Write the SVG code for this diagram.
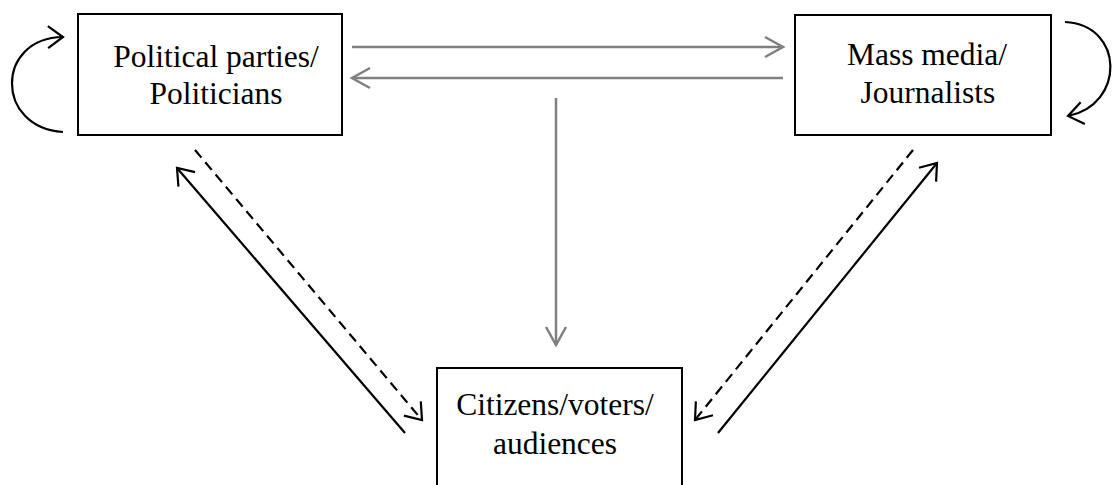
<svg xmlns="http://www.w3.org/2000/svg" width="1115" height="485" viewBox="0 0 1115 485">
  <style>
    .box { fill: #ffffff; stroke: #000000; stroke-width: 2; }
    .label { font-family: "Liberation Serif", "Times New Roman", serif; font-size: 31.5px; fill: #000000; text-anchor: middle; }
    .gray { fill: none; stroke: #808080; stroke-width: 2.5; marker-end: url(#headGray); }
    .solid { fill: none; stroke: #000000; stroke-width: 2.2; marker-end: url(#headBlack); }
    .dashed { fill: none; stroke: #000000; stroke-width: 2.2; stroke-dasharray: 10 6; marker-end: url(#headBlack); }
  </style>
  <defs>
    <marker id="headGray" markerUnits="userSpaceOnUse" orient="auto" refX="0" refY="0" markerWidth="30" markerHeight="30" viewBox="-25 -15 30 30" overflow="visible">
      <path d="M-18,-10 L0,0 L-18,10" fill="none" stroke="#808080" stroke-width="2.5" stroke-linejoin="miter"/>
    </marker>
    <marker id="headBlack" markerUnits="userSpaceOnUse" orient="auto" refX="0" refY="0" markerWidth="30" markerHeight="30" viewBox="-25 -15 30 30" overflow="visible">
      <path d="M-15,-11 L0,0 L-15,11" fill="none" stroke="#000000" stroke-width="2.2" stroke-linejoin="miter"/>
    </marker>
  </defs>

  <rect width="1115" height="485" fill="#ffffff"/>

  <g id="connectors">
    <!-- parties <-> media -->
    <line class="gray" x1="352" y1="47" x2="783" y2="47"/>
    <line class="gray" x1="783" y1="78" x2="352" y2="78"/>
    <!-- down to citizens -->
    <line class="gray" x1="556" y1="98" x2="556" y2="345"/>
    <!-- self loops -->
    <path class="solid" d="M63,132 C-5,128 -5,38 63,37"/>
    <path class="solid" d="M1065,22 C1125,25 1125,105 1068,116"/>
    <!-- parties <-> citizens -->
    <line class="solid" x1="405" y1="433" x2="177" y2="168"/>
    <line class="dashed" x1="195" y1="150" x2="422" y2="420"/>
    <!-- media <-> citizens -->
    <line class="dashed" x1="913" y1="150" x2="695" y2="420"/>
    <line class="solid" x1="718" y1="433" x2="937" y2="163"/>
  </g>

  <g id="parties">
    <rect class="box" x="78" y="14" width="264" height="121"/>
    <text class="label" x="216" y="67">Political parties/</text>
    <text class="label" x="216" y="104">Politicians</text>
  </g>

  <g id="media">
    <rect class="box" x="795" y="15" width="256" height="120"/>
    <text class="label" x="927" y="65">Mass media/</text>
    <text class="label" x="928" y="103">Journalists</text>
  </g>

  <g id="citizens">
    <rect class="box" x="437" y="368" width="245" height="130"/>
    <text class="label" x="555" y="415">Citizens/voters/</text>
    <text class="label" x="555" y="454">audiences</text>
  </g>
</svg>
